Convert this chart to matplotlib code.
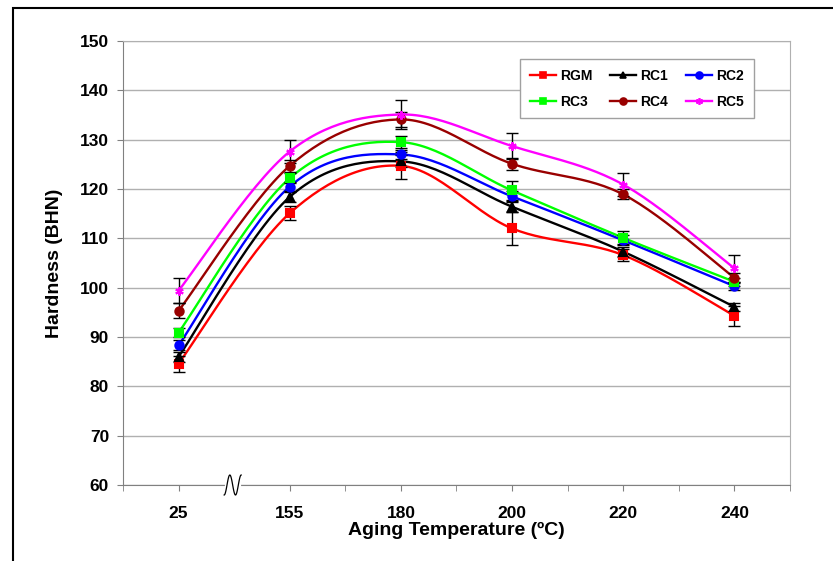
import numpy as np
import matplotlib.pyplot as plt
from matplotlib.patches import Rectangle
from matplotlib.lines import Line2D

plt.rcParams['font.family'] = ['Liberation Sans', 'DejaVu Sans']
plt.rcParams['font.weight'] = 'bold'

# Data
temps = ['25', '155', '180', '200', '220', '240']
series = ['RGM', 'RC1', 'RC2', 'RC3', 'RC4', 'RC5']
rgm = [84.6, 115.1, 124.7, 112.0, 106.6, 94.3]
rc1 = [86.0, 118.4, 125.6, 116.4, 107.3, 96.1]
rc2 = [88.3, 120.5, 127.0, 118.5, 109.6, 100.3]
rc3 = [90.9, 122.2, 129.5, 119.7, 110.1, 101.2]
rc4 = [95.3, 124.7, 134.1, 125.1, 118.9, 102.0]
rc5 = [99.4, 127.6, 135.1, 128.7, 120.9, 103.9]
err_rgm = [1.6, 1.4, 2.7, 3.3, 1.2, 2.0]
err_rc1 = [1.0, 1.0, 1.2, 1.0, 1.0, 0.8]
err_rc2 = [1.0, 1.0, 1.0, 1.0, 1.0, 0.8]
err_rc3 = [1.0, 1.0, 1.2, 2.0, 1.3, 0.8]
err_rc4 = [1.5, 1.2, 1.5, 1.2, 1.0, 1.0]
err_rc5 = [2.5, 2.4, 3.0, 2.6, 2.4, 2.7]

values = [rgm, rc1, rc2, rc3, rc4, rc5]
errors = [err_rgm, err_rc1, err_rc2, err_rc3, err_rc4, err_rc5]
colors = ['#ff0000', '#000000', '#0000ff', '#00ff00', '#990000', '#ff00ff']
markers = ['s', '^', 'o', 's', 'o', (6, 2, 0)]


def smooth(x, y, n=30):
    # Catmull-Rom style smoothing like Excel's smoothed lines
    x = np.asarray(x, float)
    y = np.asarray(y, float)
    px = np.concatenate([[x[0]], x, [x[-1]]])
    py = np.concatenate([[y[0]], y, [y[-1]]])
    xs, ys = [], []
    t = np.linspace(0, 1, n)
    for i in range(1, len(px) - 2):
        p0 = np.array([px[i], py[i]])
        p3 = np.array([px[i + 1], py[i + 1]])
        p1 = p0 + (np.array([px[i + 1], py[i + 1]]) - np.array([px[i - 1], py[i - 1]])) / 6
        p2 = p3 - (np.array([px[i + 2], py[i + 2]]) - np.array([px[i], py[i]])) / 6
        b = ((1 - t) ** 3)[:, None] * p0 + (3 * (1 - t) ** 2 * t)[:, None] * p1 \
            + (3 * (1 - t) * t ** 2)[:, None] * p2 + (t ** 3)[:, None] * p3
        xs.extend(b[:, 0])
        ys.extend(b[:, 1])
    return np.array(xs), np.array(ys)


fig = plt.figure(figsize=(8.33, 5.61), dpi=100)
ax = fig.add_axes([123 / 833, 1 - 485 / 561, 667 / 833, 444 / 561])

xpos = np.arange(len(temps))
for name, vals, errs, c, m in zip(series, values, errors, colors, markers):
    sx, sy = smooth(xpos, vals)
    ax.plot(sx, sy, color=c, lw=1.7, zorder=3)
    ax.errorbar(xpos, vals, yerr=errs, fmt='none', ecolor='black', elinewidth=1,
                capsize=4, capthick=1, zorder=4)
    ax.plot(xpos, vals, ls='none', marker=m, color=c, ms=6, mew=1.5, zorder=5)

ax.set_xlim(-0.5, 5.5)
ax.set_ylim(60, 150)
ax.set_yticks(np.arange(60, 151, 10))
ax.set_xticks(xpos)
ax.set_xticklabels(temps)
ax.set_xticks([-0.5, 1.5, 2.5, 3.5, 4.5, 5.5], minor=True)
ax.tick_params(axis='both', which='both', length=4, color='#808080', labelsize=12.5, pad=6)
ax.tick_params(axis='x', which='major', pad=11)
for lab in ax.get_xticklabels() + ax.get_yticklabels():
    lab.set_fontweight('bold')
ax.grid(axis='y', color='#b0b0b0', lw=1)
ax.set_axisbelow(True)
for s in ['top', 'right']:
    ax.spines[s].set_color('#b0b0b0')
for s in ['left', 'bottom']:
    ax.spines[s].set_color('#808080')

ax.set_ylabel('Hardness (BHN)', fontsize=14, fontweight='bold', labelpad=12)
ax.set_xlabel('Aging Temperature (ºC)', fontsize=14, fontweight='bold', labelpad=1)

# axis break mark
bx = 1 / 6
ax.plot([bx - 7 / 667, bx + 5 / 667], [0, 0], color='white', lw=3,
        transform=ax.transAxes, clip_on=False, zorder=6)
t = np.linspace(0, 1, 60)
qx = bx + (-10 + 17 * t) / 667
qy = (-10 * np.cos(3 * np.pi * t)) / 444
ax.plot(qx, qy, color='black', lw=0.9, transform=ax.transAxes, clip_on=False, zorder=7)

# legend
handles = [Line2D([], [], color=c, marker=m, lw=1.7, ms=5, mew=1.2)
           for c, m in zip(colors, markers)]
order = [0, 3, 1, 4, 2, 5]
leg = ax.legend([handles[i] for i in order], [series[i] for i in order], ncol=3,
                loc='upper left', bbox_to_anchor=(0.595, 0.959), borderaxespad=0,
                fancybox=False, edgecolor='#a0a0a0', framealpha=1,
                prop={'weight': 'bold', 'size': 10},
                handlelength=1.9, columnspacing=1.25, handletextpad=0.3,
                borderpad=0.7, labelspacing=0.85)
leg.get_frame().set_linewidth(1)

# outer border
fig.patches.append(Rectangle((13 / 833, -0.1), 1.1, 1 - 8 / 561 + 0.1, transform=fig.transFigure,
                             fill=False, edgecolor='black', lw=1.5))

fig.savefig('out.png', dpi=100)
